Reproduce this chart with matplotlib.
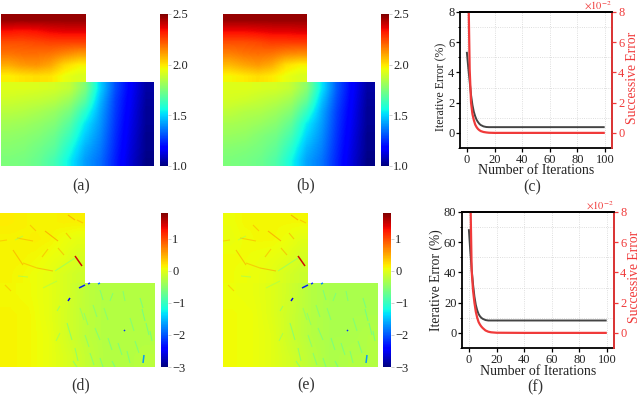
import numpy as np
import matplotlib
matplotlib.use("Agg")
import matplotlib.pyplot as plt
from matplotlib.collections import LineCollection
from matplotlib.ticker import MultipleLocator

plt.rcParams['font.family'] = ['Liberation Serif', 'DejaVu Serif']
plt.rcParams['mathtext.fontset'] = 'stix'

W, H = 640, 395

# field of (a) and (b): upper block and lower block of the L shape
a_top = [[2.47, 2.47, 2.47, 2.47, 2.47, 2.47],
         [2.34, 2.33, 2.34, 2.36, 2.37, 2.37],
         [2.24, 2.24, 2.25, 2.26, 2.26, 2.26],
         [2.18, 2.19, 2.19, 2.18, 2.15, 2.12],
         [2.09, 2.12, 2.13, 2.10, 2.02, 1.98],
         [1.98, 2.00, 2.01, 2.00, 1.95, 1.92]]
a_bottom = [[1.93, 1.93, 1.92, 1.91, 1.88, 1.76, 1.50, 1.30, 1.17, 1.05],
            [1.90, 1.89, 1.88, 1.86, 1.81, 1.69, 1.46, 1.28, 1.16, 1.04],
            [1.86, 1.85, 1.83, 1.80, 1.74, 1.60, 1.43, 1.27, 1.15, 1.03],
            [1.82, 1.81, 1.79, 1.76, 1.68, 1.53, 1.41, 1.26, 1.14, 1.03],
            [1.79, 1.78, 1.76, 1.72, 1.63, 1.49, 1.39, 1.25, 1.13, 1.02],
            [1.77, 1.76, 1.73, 1.69, 1.58, 1.45, 1.37, 1.24, 1.12, 1.02],
            [1.75, 1.74, 1.71, 1.65, 1.54, 1.42, 1.35, 1.23, 1.11, 1.01]]
b_top = [[2.47, 2.47, 2.47, 2.47, 2.47, 2.47],
         [2.35, 2.35, 2.36, 2.37, 2.37, 2.38],
         [2.24, 2.24, 2.25, 2.27, 2.27, 2.27],
         [2.16, 2.18, 2.19, 2.18, 2.15, 2.14],
         [2.07, 2.10, 2.12, 2.09, 2.01, 1.98],
         [1.97, 1.99, 2.01, 1.99, 1.95, 1.92]]
b_bottom = [[1.93, 1.93, 1.92, 1.91, 1.88, 1.78, 1.53, 1.32, 1.18, 1.05],
            [1.91, 1.90, 1.88, 1.86, 1.82, 1.71, 1.48, 1.30, 1.17, 1.04],
            [1.87, 1.85, 1.84, 1.81, 1.76, 1.62, 1.44, 1.28, 1.16, 1.03],
            [1.83, 1.82, 1.80, 1.77, 1.70, 1.54, 1.42, 1.27, 1.15, 1.03],
            [1.80, 1.79, 1.76, 1.73, 1.65, 1.50, 1.40, 1.26, 1.14, 1.02],
            [1.77, 1.76, 1.74, 1.70, 1.60, 1.46, 1.38, 1.25, 1.13, 1.02],
            [1.75, 1.74, 1.72, 1.67, 1.56, 1.43, 1.36, 1.24, 1.12, 1.01]]

# residual of (d) and (e)
d_top = [[0.16, 0.14, 0.12, 0.12, 0.14, 0.14],
         [0.12, 0.12, 0.14, 0.12, 0.06, 0.02],
         [0.12, 0.12, 0.10, 0.06, 0.02, -0.06],
         [0.12, 0.10, 0.06, 0.02, -0.06, -0.12]]
d_bottom = [[0.10, 0.08, 0.02, -0.08, -0.22, -0.28, -0.28, -0.28],
            [0.12, 0.10, 0.02, -0.10, -0.22, -0.28, -0.28, -0.28],
            [0.12, 0.10, 0.04, -0.10, -0.22, -0.28, -0.28, -0.28],
            [0.12, 0.10, 0.04, -0.06, -0.18, -0.28, -0.28, -0.24]]
e_top = [[0.06, 0.10, 0.10, 0.10, 0.10, 0.10],
         [0.04, 0.08, 0.10, 0.10, 0.06, 0.00],
         [0.08, 0.08, 0.06, 0.04, 0.00, -0.08],
         [0.08, 0.06, 0.04, 0.00, -0.08, -0.14]]
e_bottom = [[0.06, 0.04, -0.02, -0.12, -0.26, -0.32, -0.32, -0.32],
            [0.08, 0.06, -0.02, -0.14, -0.26, -0.32, -0.32, -0.32],
            [0.08, 0.06, 0.00, -0.14, -0.26, -0.32, -0.32, -0.28],
            [0.08, 0.06, 0.00, -0.10, -0.22, -0.32, -0.28, -0.28]]

# thin streaks seen in the residual maps: from (x0, y0) to (x1, y1), with value
streak_x0 = [45, 68, 77, 13, 23, 37, 17, 58, 0, 75, 55, 15, 18, 43, 79, 88, 98, 70, 124, 144,
             67, 57, 100, 113, 123, 140, 84, 95, 108, 130, 146, 75, 90, 118, 135, 104, 60, 80, 150, 48,
             30, 5, 66, 93, 127, 112, 73, 142, 100, 85]
streak_y0 = [18, 2, 7, 37, 50, 55, 25, 35, 28, 43, 58, 27, 63, 75, 75, 71, 71, 85, 117, 142,
             110, 98, 77, 80, 78, 85, 100, 115, 125, 105, 110, 135, 140, 130, 128, 95, 120, 95, 118, 36,
             12, 72, 20, 92, 138, 148, 148, 96, 145, 122]
streak_x1 = [58, 75, 83, 23, 37, 53, 33, 64, 7, 82, 75, 23, 28, 57, 85, 90, 100, 68, 125, 143,
             72, 60, 103, 110, 125, 143, 88, 100, 112, 134, 149, 78, 94, 122, 139, 108, 56, 84, 152, 42,
             36, 11, 71, 97, 130, 115, 77, 145, 103, 89]
streak_y1 = [28, 7, 10, 52, 55, 58, 28, 42, 27, 53, 45, 23, 64, 68, 72, 70, 70, 88, 118, 150,
             127, 93, 87, 88, 88, 95, 112, 127, 137, 118, 122, 148, 152, 142, 140, 107, 128, 107, 128, 44,
             18, 78, 26, 104, 150, 154, 154, 108, 154, 134]
streak_v = [0.75, 0.75, 0.55, 0.65, 0.55, 0.65, 0.55, 0.6, 0.5, 1.45, -0.65, -0.45, -0.5, -0.45, -2.3, -2.2, -1.8, -2.5, -2.2, -1.7,
            -0.85, -0.7, -0.85, -0.8, -0.8, -0.9, -0.7, -0.8, -0.85, -0.8, -0.9, -0.8, -0.8, -0.85, -0.85, -0.75, -0.6, -0.65, -0.9, 0.55,
            0.55, 0.5, 0.6, -0.75, -0.85, -0.9, -0.8, -0.95, -0.85, -0.75]

# convergence curves
iters = [0, 1, 2, 3, 4, 5, 6, 7, 8, 9, 10, 12, 14, 16, 20, 40, 60, 80, 99]
c_iter = [5.3, 4.3, 3.4, 2.5, 1.85, 1.4, 1.1, 0.87, 0.72, 0.6, 0.52, 0.43, 0.39, 0.38, 0.38, 0.38, 0.38, 0.38, 0.38]
c_succ = [24, 10, 4.2, 2.0, 1.25, 0.85, 0.55, 0.38, 0.26, 0.18, 0.12, 0.06, 0.03, 0.01, 0, 0, 0, 0, 0]
f_iter = [68, 54, 42, 32, 24, 18.5, 15, 12.5, 11, 10, 9.3, 8.5, 8.2, 8.2, 8.2, 8.2, 8.2, 8.2, 8.2]
f_succ = [30, 9.5, 4.1, 2.8, 2.0, 1.4, 1.0, 0.72, 0.55, 0.42, 0.32, 0.16, 0.08, 0.04, 0.01, 0, 0, 0, 0]

field_ticks = [1.0, 1.5, 2.0, 2.5]
resid_ticks = [-3, -2, -1, 0, 1]

RED = '#f03a3a'
TXT = '#222222'

fig = plt.figure(figsize=(W / 100, H / 100), dpi=100)


def px_axes(x0, y0, x1, y1):
    return fig.add_axes([x0 / W, 1 - y1 / H, (x1 - x0) / W, (y1 - y0) / H])


def lshape(box, notch, top, bottom, vmin, vmax, streaks=False):
    x0, y0, x1, y1 = box
    ax = px_axes(x0, y0, x1, y1)
    w, h = x1 - x0, y1 - y0
    nx, ny = notch[0] - x0, notch[1] - y0
    kw = dict(cmap='jet', vmin=vmin, vmax=vmax, aspect='auto', interpolation='bilinear')
    im = ax.imshow(top, extent=(0, nx, ny, 0), **kw)
    ax.imshow(bottom, extent=(0, w, h, ny), **kw)
    if streaks:
        # the weak streaks are soft in the picture, the strong ones are crisp
        segs = [[(a, b), (c, d)] for a, b, c, d in zip(streak_x0, streak_y0, streak_x1, streak_y1)]
        vals = np.array(streak_v)
        strong = np.abs(vals) > 1.2
        for mask, lw, alpha in [(~strong, 0.8, 0.5), (strong, 1.1, 0.95)]:
            lc = LineCollection([s for s, m in zip(segs, mask) if m], cmap='jet', linewidths=lw, alpha=alpha)
            lc.set_array(vals[mask])
            lc.set_clim(vmin, vmax)
            ax.add_collection(lc)
    ax.set_xlim(0, w)
    ax.set_ylim(h, 0)
    ax.axis('off')
    return im


def colorbar(im, box, ticks, labels):
    cax = px_axes(*box)
    cb = fig.colorbar(im, cax=cax, ticks=ticks)
    cb.outline.set_visible(False)
    cb.set_ticklabels(labels)
    cax.tick_params(length=2, width=0.6, color='#c8c8c8', labelsize=9, labelcolor=TXT, pad=1)


field_labels = ['1.0', '1.5', '2.0', '2.5']
resid_labels = ['\u22123', '\u22122', '\u22121', '0', '1']

im = lshape((1, 14, 154, 166), (86, 82), a_top, a_bottom, 1.0, 2.5)
colorbar(im, (160, 14, 168, 166), field_ticks, field_labels)
im = lshape((223, 14, 375, 166), (307, 82), b_top, b_bottom, 1.0, 2.5)
colorbar(im, (381, 14, 389, 166), field_ticks, field_labels)
im = lshape((0, 213, 155, 367), (85, 283), d_top, d_bottom, -3, 1.8, True)
colorbar(im, (161, 213, 168, 367), resid_ticks, resid_labels)
im = lshape((223, 213, 378, 367), (308, 283), e_top, e_bottom, -3, 1.8, True)
colorbar(im, (383, 213, 391, 367), resid_ticks, resid_labels)


def curves(box, y_iter, y_succ, ymax, ystep, labels):
    ax = px_axes(*box)
    ax.plot(iters, y_iter, color='#444444', lw=1.4)
    ax.set_xlim(-5, 105)
    ax.set_ylim(-ymax / 8, ymax)
    ax.set_xticks(range(0, 101, 20))
    ax.set_yticks(np.arange(0, ymax + 1, ystep))
    ax.yaxis.set_minor_locator(MultipleLocator(ystep / 2))
    ax.grid(True, which='major', axis='x', ls=':', lw=0.6, color='#d4d4d4')
    ax.grid(True, which='minor', axis='y', ls=':', lw=0.6, color='#d4d4d4')
    ax.set_axisbelow(True)
    ax.tick_params(axis='both', which='major', length=3, width=0.9, labelsize=9, labelcolor=TXT, pad=1)
    ax.tick_params(axis='y', which='minor', length=1.5, width=0.7)
    for s in ax.spines.values():
        s.set_linewidth(1.3)
    ax2 = ax.twinx()
    ax2.plot(iters, y_succ, color=RED, lw=1.6)
    ax2.set_ylim(-1, 8)
    ax2.set_yticks(range(0, 9, 2))
    ax2.tick_params(axis='y', colors=RED, length=3, width=0.9, labelsize=9, pad=1.5)
    ax2.spines['right'].set_color(RED)
    ax2.spines['right'].set_linewidth(1.3)
    ax2.spines['left'].set_visible(False)
    ax2.spines['bottom'].set_visible(False)
    ax2.spines['top'].set_linewidth(1.3)
    ax2.text(1.0, 1.0, r'$\times10^{-2}$', transform=ax2.transAxes, ha='right', va='bottom',
             color=RED, fontsize=7.5)
    # axis titles, placed where the picture has them
    xl, yl, isize, rx = labels
    fig.text(xl[0] / W, 1 - xl[1] / H, 'Number of Iterations', ha='center', va='center',
             fontsize=10, color=TXT)
    fig.text(yl[0] / W, 1 - yl[1] / H, 'Iterative Error (%)', rotation=90, ha='center', va='center',
             fontsize=isize, color=TXT)
    fig.text(rx[0] / W, 1 - rx[1] / H, 'Successive Error', rotation=90, ha='center', va='center',
             fontsize=9.8, color=RED)


curves((460, 12, 612, 148), c_iter, c_succ, 8, 2, ((536, 171), (441, 87), 8.6, (633, 78)))
curves((462, 212, 614, 348), f_iter, f_succ, 80, 20, ((538, 371.5), (436, 280), 9.8, (634, 277)))

# panel captions
captions = ['(a)', '(b)', '(c)', '(d)', '(e)', '(f)']
cap_x = [81, 306, 532, 81, 306, 535]
cap_y = [186, 185, 187, 385, 385, 387]
for t, x, y in zip(captions, cap_x, cap_y):
    fig.text(x / W, 1 - y / H, t, ha='center', va='center', fontsize=11.5, color='#333333')

fig.savefig('out.png', dpi=100)
